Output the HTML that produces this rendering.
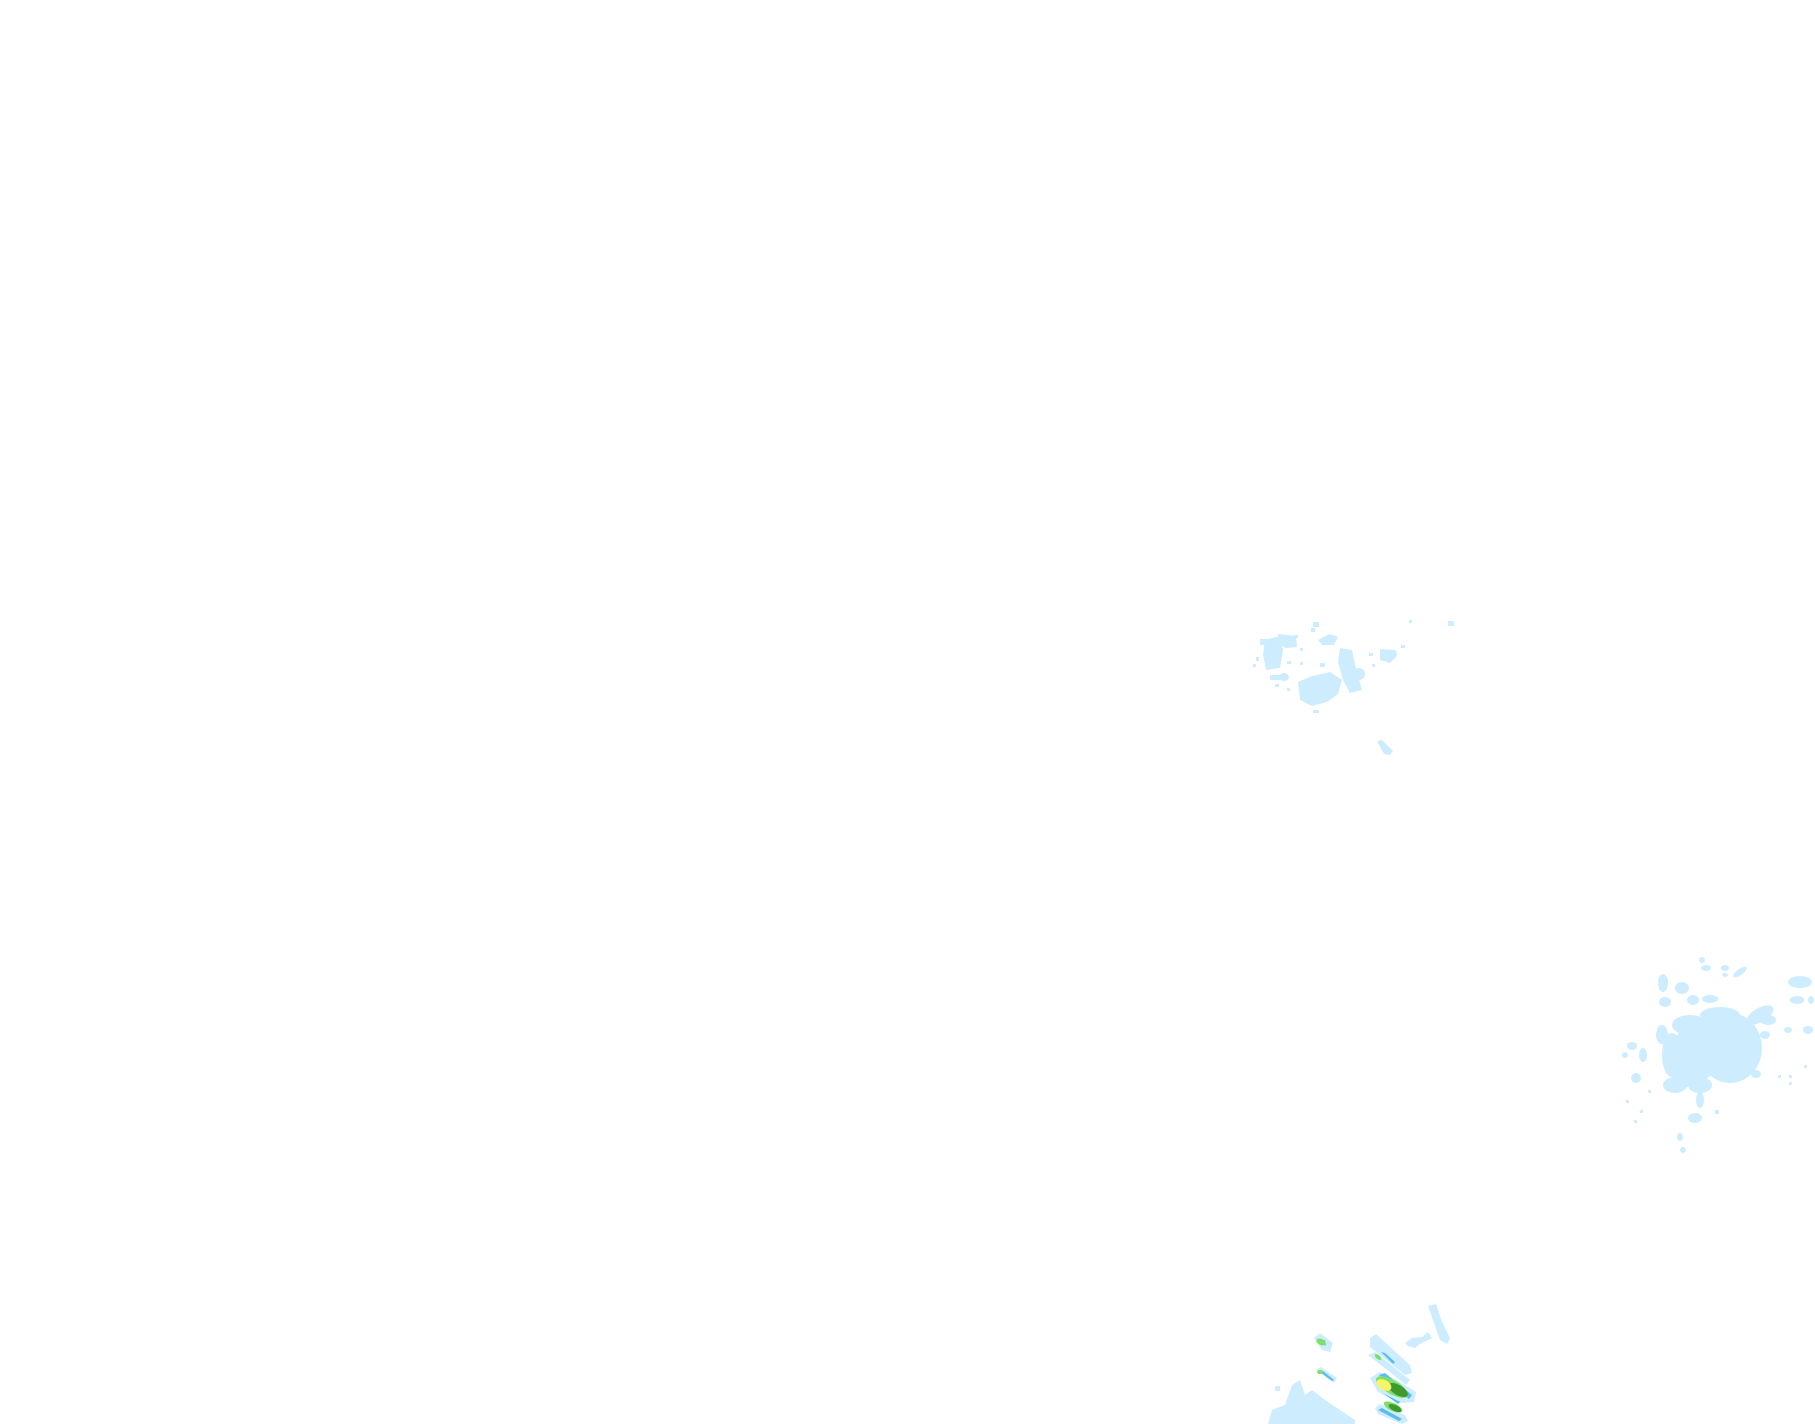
<!DOCTYPE html>
<html><head><meta charset="utf-8"><style>
html,body{margin:0;padding:0;background:#fff;width:1815px;height:1424px;overflow:hidden}
svg{display:block}
</style></head><body>
<svg width="1815" height="1424" viewBox="0 0 1815 1424" xmlns="http://www.w3.org/2000/svg">
<g fill="#cdedff">
<!-- cluster 1 -->
<rect x="1260" y="639" width="8" height="6"/>
<path d="M1265 640 L1280 636 L1283 650 L1280 668 L1266 670 L1263 655 Z"/>
<path d="M1278 634 L1296 636 L1297 647 L1285 648 L1279 643 Z"/>
<rect x="1270" y="675" width="10" height="5"/>
<ellipse cx="1284" cy="677" rx="5" ry="4"/>
<path d="M1298 682 L1312 676 L1330 672 L1342 680 L1338 694 L1327 702 L1312 706 L1300 700 Z"/>
<path d="M1340 648 L1352 650 L1356 668 L1362 690 L1350 693 L1343 680 L1338 662 Z"/>
<circle cx="1359" cy="674" r="6"/>
<path d="M1380 649 L1396 650 L1397 656 L1390 663 L1380 660 Z"/>
<path d="M1318 640 L1330 634 L1338 637 L1334 645 L1322 645 Z"/>
<rect x="1313" y="622" width="6" height="5"/>
<rect x="1311" y="628" width="4" height="4"/>
<path d="M1377 741 L1382 740 L1393 751 L1390 755 L1384 754 Z"/>
<rect x="1448" y="621" width="6" height="5"/>
<rect x="1409" y="620" width="3" height="3"/>
<rect x="1253" y="664" width="3" height="3"/>
<rect x="1256" y="657" width="3" height="4"/>
<rect x="1287" y="661" width="4" height="3"/>
<rect x="1300" y="662" width="3" height="3"/>
<rect x="1320" y="663" width="5" height="4"/>
<rect x="1372" y="664" width="3" height="3"/>
<rect x="1369" y="653" width="4" height="3"/>
<rect x="1294" y="635" width="4" height="3"/>
<rect x="1300" y="648" width="3" height="3"/>
<rect x="1313" y="710" width="6" height="3"/>
<rect x="1275" y="684" width="4" height="3"/>
<rect x="1287" y="688" width="3" height="3"/>
<rect x="1401" y="645" width="4" height="3"/>
<!-- cluster 2 -->
<ellipse cx="1730" cy="1048" rx="32" ry="35"/>
<ellipse cx="1705" cy="1045" rx="30" ry="25"/>
<ellipse cx="1690" cy="1065" rx="25" ry="18"/>
<ellipse cx="1672" cy="1055" rx="10" ry="22"/>
<ellipse cx="1675" cy="1085" rx="12" ry="8"/>
<ellipse cx="1700" cy="1085" rx="12" ry="8"/>
<ellipse cx="1690" cy="1025" rx="18" ry="10"/>
<ellipse cx="1720" cy="1015" rx="20" ry="8"/>
<ellipse cx="1760" cy="1015" rx="15" ry="7" transform="rotate(-30 1760 1015)"/>
<ellipse cx="1768" cy="1020" rx="8" ry="5"/>
<ellipse cx="1662" cy="1035" rx="6" ry="9"/>
<ellipse cx="1662" cy="1030" rx="5" ry="5"/>
<ellipse cx="1700" cy="1100" rx="4" ry="8"/>
<ellipse cx="1695" cy="1118" rx="7" ry="5"/>
<ellipse cx="1682" cy="988" rx="7" ry="6"/>
<ellipse cx="1663" cy="983" rx="5" ry="9"/>
<ellipse cx="1665" cy="1002" rx="6" ry="5"/>
<ellipse cx="1740" cy="972" rx="8" ry="3" transform="rotate(-35 1740 972)"/>
<ellipse cx="1800" cy="982" rx="12" ry="6"/>
<ellipse cx="1797" cy="1000" rx="7" ry="4"/>
<ellipse cx="1693" cy="1000" rx="6" ry="5"/>
<ellipse cx="1710" cy="999" rx="8" ry="4"/>
<ellipse cx="1632" cy="1046" rx="5" ry="4"/>
<ellipse cx="1636" cy="1078" rx="5" ry="5"/>
<ellipse cx="1643" cy="1055" rx="4" ry="7"/>
<ellipse cx="1680" cy="1137" rx="3" ry="4"/>
<ellipse cx="1683" cy="1150" rx="3" ry="3"/>
<ellipse cx="1625" cy="1055" rx="3" ry="3"/>
<ellipse cx="1687" cy="1083" rx="4" ry="4"/>
<ellipse cx="1706" cy="968" rx="5" ry="3"/>
<ellipse cx="1702" cy="960" rx="3" ry="3"/>
<ellipse cx="1725" cy="968" rx="4" ry="3"/>
<ellipse cx="1725" cy="975" rx="3" ry="2"/>
<ellipse cx="1788" cy="1030" rx="4" ry="3"/>
<ellipse cx="1808" cy="1030" rx="5" ry="4"/>
<ellipse cx="1811" cy="1000" rx="3" ry="4"/>
<ellipse cx="1756" cy="1074" rx="5" ry="4"/>
<ellipse cx="1765" cy="1035" rx="5" ry="4"/>
<rect x="1626" y="1100" width="3" height="3"/>
<rect x="1634" y="1120" width="3" height="3"/>
<rect x="1640" y="1110" width="3" height="3"/>
<rect x="1778" y="1075" width="3" height="3"/>
<rect x="1789" y="1075" width="3" height="3"/>
<rect x="1789" y="1082" width="3" height="3"/>
<rect x="1804" y="1065" width="3" height="3"/>
<rect x="1715" y="1110" width="4" height="4"/>
<rect x="1648" y="1090" width="3" height="3"/>
<!-- cluster 3 -->
<path d="M1268 1424 L1272 1410 L1285 1405 L1292 1385 L1300 1380 L1305 1395 L1312 1390 L1325 1400 L1340 1410 L1355 1420 L1355 1424 Z"/>
<rect x="1275" y="1386" width="5" height="5"/>
<path d="M1428 1306 L1436 1304 L1442 1322 L1450 1338 L1447 1344 L1440 1340 Z"/>
<path d="M1405 1343 L1412 1338 L1422 1337 L1428 1332 L1432 1338 L1420 1344 L1415 1348 L1408 1346 Z"/>
<path d="M1370 1338 L1376 1334 L1410 1365 L1412 1373 L1405 1375 L1370 1347 Z"/>
<path d="M1368 1355 L1375 1352 L1410 1380 L1406 1385 Z"/>
<path d="M1370 1378 L1380 1372 L1400 1382 L1416 1392 L1414 1402 L1400 1403 L1378 1392 Z"/>
<path d="M1375 1408 L1380 1404 L1405 1415 L1408 1421 L1402 1424 L1378 1414 Z"/>
<path d="M1314 1338 L1320 1333 L1333 1343 L1330 1352 L1322 1350 Z"/>
<path d="M1316 1370 L1321 1367 L1337 1378 L1334 1383 Z"/>
</g>
<g fill="#5bbcf0">
<path d="M1381 1352 L1385 1353 L1395 1362 L1393 1364 Z"/>
<path d="M1379 1375 L1385 1373 L1412 1395 L1409 1399 Z"/>
<path d="M1378 1410 L1382 1408 L1402 1419 L1399 1421 Z"/>
<path d="M1320 1342 L1325 1340 L1326 1346 Z"/>
<path d="M1320 1372 L1323 1371 L1334 1380 L1332 1381 Z"/>
<path d="M1383 1393 L1400 1402 L1398 1404 Z"/>
</g>
<g fill="#7de06a">
<ellipse cx="1321" cy="1342" rx="5" ry="3" transform="rotate(25 1321 1342)"/>
<ellipse cx="1320" cy="1372" rx="3" ry="2"/>
<ellipse cx="1392" cy="1387" rx="18" ry="7" transform="rotate(30 1392 1387)"/>
<ellipse cx="1393" cy="1407" rx="10" ry="4" transform="rotate(25 1393 1407)"/>
<ellipse cx="1378" cy="1357" rx="4" ry="2" transform="rotate(40 1378 1357)"/>
</g>
<g fill="#3f9a2e">
<ellipse cx="1398" cy="1390" rx="11" ry="5" transform="rotate(30 1398 1390)"/>
<ellipse cx="1395" cy="1408" rx="7" ry="3" transform="rotate(25 1395 1408)"/>
</g>
<ellipse cx="1384" cy="1385" rx="8" ry="5" transform="rotate(30 1384 1385)" fill="#f6f56a"/>
</svg>
</body></html>
